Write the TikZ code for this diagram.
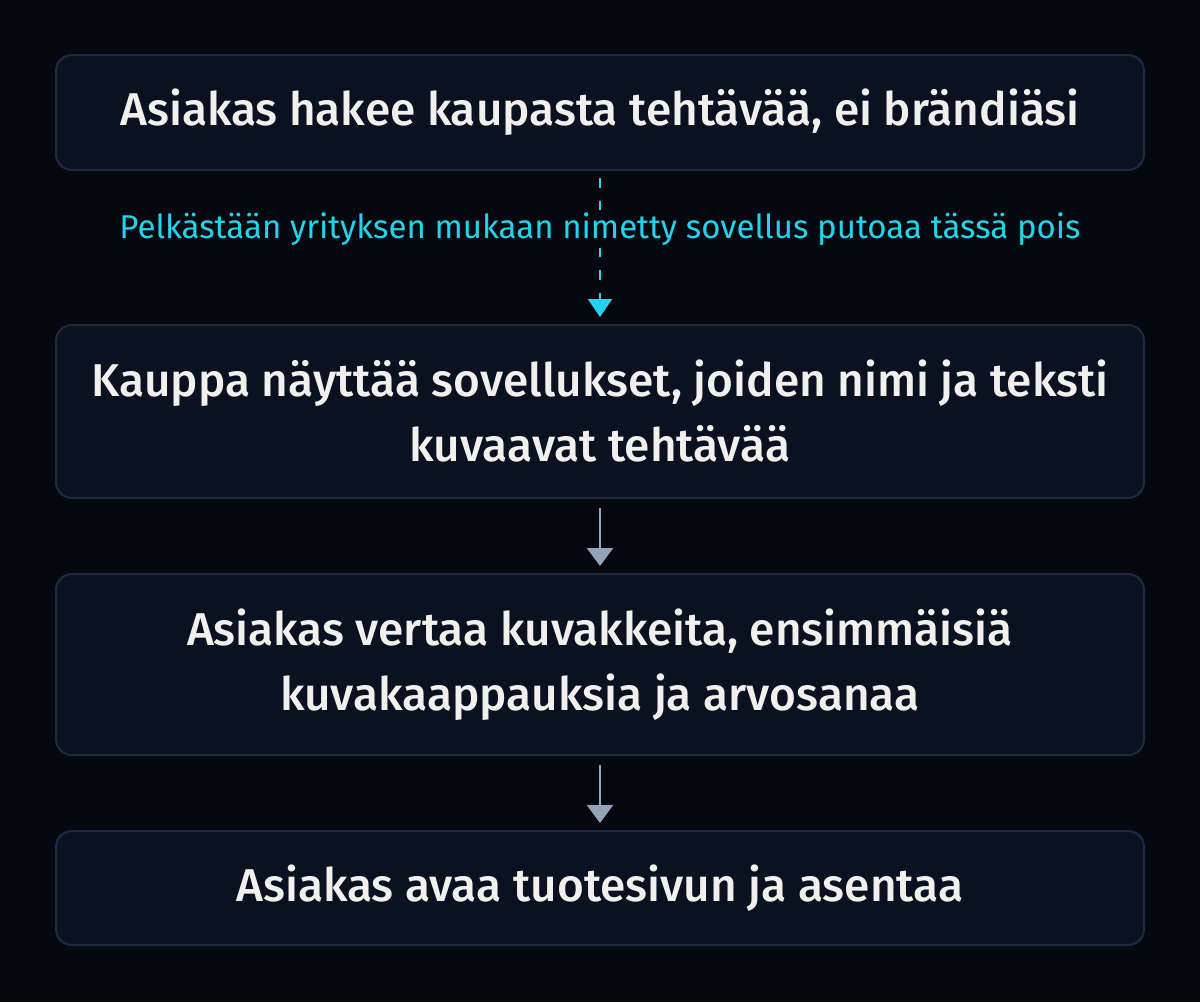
\documentclass[tikz,border=0pt]{standalone}
\usepackage{fontspec}
\setmainfont{Fira Sans}[BoldFont={Fira Sans Medium}]
\usetikzlibrary{arrows.meta}
\definecolor{bg}{HTML}{05080F}
\definecolor{boxfill}{HTML}{0A1120}
\definecolor{boxline}{HTML}{1E2A40}
\definecolor{txt}{HTML}{F1F0EC}
\definecolor{cyanc}{HTML}{22D3EE}
\definecolor{grayarrow}{HTML}{94A3B8}
\begin{document}
\begin{tikzpicture}[x=1pt,y=-1pt,
  stepbox/.style={draw=boxline, line width=2pt, fill=boxfill, rounded corners=16pt,
    minimum width=1088pt, text=txt, font=\fontsize{46}{65}\selectfont\bfseries, align=center, inner sep=0pt},
  grayarr/.style={draw=grayarrow, line width=2.5pt, -{Triangle[width=26pt,length=18pt]}},
  cyanarr/.style={draw=cyanc, line width=2.5pt, dash pattern=on 10pt off 13pt, -{Triangle[width=24pt,length=18pt]}}]
\fill[bg] (0,0) rectangle (1200,1002);
\useasboundingbox (0,0) rectangle (1200,1002);
\node[stepbox, minimum height=115pt] (b1) at (600,112.5) {Asiakas hakee kaupasta tehtävää, ei brändiäsi};
\node[stepbox, minimum height=173pt] (b2) at (600,411.5) {Kauppa näyttää sovellukset, joiden nimi ja teksti\\kuvaavat tehtävää};
\node[stepbox, minimum height=181pt] (b3) at (600,664.5) {Asiakas vertaa kuvakkeita, ensimmäisiä\\kuvakaappauksia ja arvosanaa};
\node[stepbox, minimum height=114pt] (b4) at (600,888) {Asiakas avaa tuotesivun ja asentaa};
\coordinate (c1) at (600,178);
\coordinate (c2) at (600,317);
\draw[cyanarr] (c1) -- (c2);
\node[fill=bg, text=cyanc, font=\fontsize{33}{36}\selectfont, inner xsep=4pt, inner ysep=3pt] (lbl) at (600,229) {Pelkästään yrityksen mukaan nimetty sovellus putoaa tässä pois};
\coordinate (g1s) at (600,508);
\coordinate (g1e) at (600,566);
\draw[grayarr] (g1s) -- (g1e);
\coordinate (g2s) at (600,765);
\coordinate (g2e) at (600,823);
\draw[grayarr] (g2s) -- (g2e);
\end{tikzpicture}
\end{document}
